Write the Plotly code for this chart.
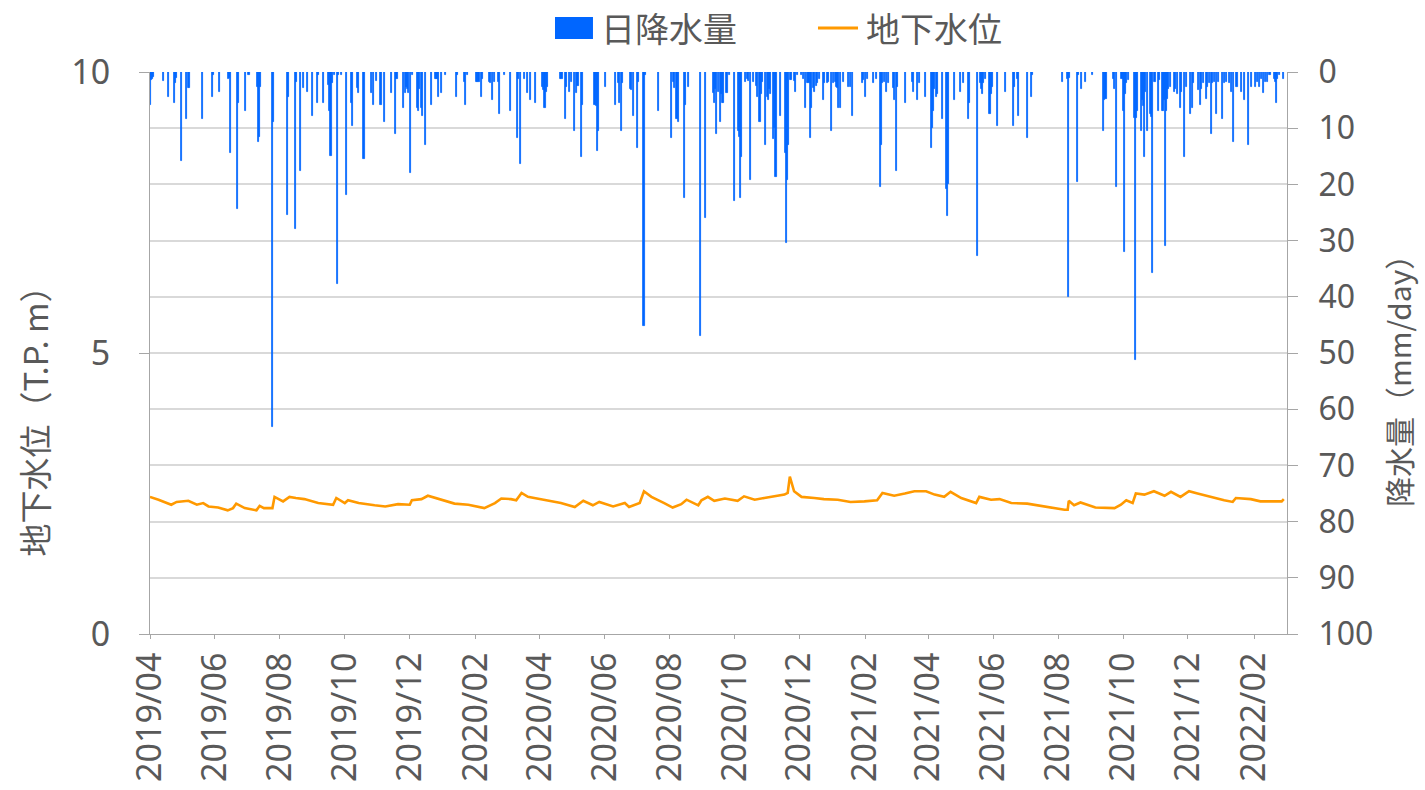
import plotly.graph_objects as go

# Daily precipitation (mm/day); days not listed had no rain
rain_dates = [
    "2019-04-01", "2019-04-02", "2019-04-03", "2019-04-04", "2019-04-14", "2019-04-18", "2019-04-24", "2019-04-25",
    "2019-04-26", "2019-05-01", "2019-05-05", "2019-05-07", "2019-05-08", "2019-05-20", "2019-05-30", "2019-05-31",
    "2019-06-05", "2019-06-14", "2019-06-15", "2019-06-16", "2019-06-22", "2019-06-23", "2019-06-30", "2019-07-03",
    "2019-07-11", "2019-07-12", "2019-07-13", "2019-07-14", "2019-07-25", "2019-07-26", "2019-08-08", "2019-08-09",
    "2019-08-16", "2019-08-17", "2019-08-20", "2019-08-23", "2019-08-27", "2019-09-01", "2019-09-05", "2019-09-06",
    "2019-09-11", "2019-09-16", "2019-09-17", "2019-09-18", "2019-09-19", "2019-09-21", "2019-09-24", "2019-09-25",
    "2019-09-28", "2019-10-03", "2019-10-07", "2019-10-08", "2019-10-13", "2019-10-14", "2019-10-19", "2019-10-26",
    "2019-10-28", "2019-10-31", "2019-11-04", "2019-11-07", "2019-11-14", "2019-11-18", "2019-11-19", "2019-11-25",
    "2019-11-27", "2019-11-28", "2019-11-29", "2019-11-30", "2019-12-02", "2019-12-04", "2019-12-08", "2019-12-09",
    "2019-12-10", "2019-12-12", "2019-12-13", "2019-12-16", "2019-12-21", "2019-12-25", "2019-12-26", "2019-12-27",
    "2019-12-28", "2019-12-31",
    "2020-01-04", "2020-01-14", "2020-01-15", "2020-01-21", "2020-01-22", "2020-01-24", "2020-02-02", "2020-02-03",
    "2020-02-04", "2020-02-06", "2020-02-07", "2020-02-14", "2020-02-15", "2020-02-17", "2020-02-19", "2020-02-22",
    "2020-02-23", "2020-02-28", "2020-03-05", "2020-03-11", "2020-03-12", "2020-03-14", "2020-03-18", "2020-03-21",
    "2020-03-23", "2020-03-28", "2020-04-04", "2020-04-05", "2020-04-06", "2020-04-07", "2020-04-08", "2020-04-21",
    "2020-04-22", "2020-04-25", "2020-04-26", "2020-04-29", "2020-05-01", "2020-05-04", "2020-05-06", "2020-05-07",
    "2020-05-10", "2020-05-11", "2020-05-23", "2020-05-24", "2020-05-25", "2020-05-26", "2020-06-02", "2020-06-11",
    "2020-06-14", "2020-06-15", "2020-06-17", "2020-06-18", "2020-06-25", "2020-06-26", "2020-06-28", "2020-07-02",
    "2020-07-03", "2020-07-08", "2020-07-09", "2020-07-22", "2020-08-03", "2020-08-05", "2020-08-06", "2020-08-08",
    "2020-08-09", "2020-08-15", "2020-08-16", "2020-08-19", "2020-08-30", "2020-09-04", "2020-09-11", "2020-09-12",
    "2020-09-13", "2020-09-14", "2020-09-16", "2020-09-18", "2020-09-19", "2020-09-20", "2020-09-21", "2020-09-24",
    "2020-09-26", "2020-10-01", "2020-10-05", "2020-10-06", "2020-10-07", "2020-10-08", "2020-10-11", "2020-10-13",
    "2020-10-14", "2020-10-16", "2020-10-19", "2020-10-22", "2020-10-23", "2020-10-25", "2020-10-26", "2020-10-27",
    "2020-10-30", "2020-11-01", "2020-11-02", "2020-11-03", "2020-11-04", "2020-11-07", "2020-11-08", "2020-11-09",
    "2020-11-13", "2020-11-18", "2020-11-19", "2020-11-20", "2020-11-21", "2020-11-23", "2020-11-24", "2020-11-26",
    "2020-11-27", "2020-11-29", "2020-12-03", "2020-12-05", "2020-12-07", "2020-12-09", "2020-12-10", "2020-12-11",
    "2020-12-12", "2020-12-14", "2020-12-15", "2020-12-17", "2020-12-18", "2020-12-20", "2020-12-24", "2020-12-25",
    "2020-12-27", "2020-12-28", "2020-12-31",
    "2021-01-02", "2021-01-04", "2021-01-05", "2021-01-06", "2021-01-07", "2021-01-09", "2021-01-11", "2021-01-16",
    "2021-01-18", "2021-01-20", "2021-01-29", "2021-01-30", "2021-02-01", "2021-02-03", "2021-02-09", "2021-02-11",
    "2021-02-15", "2021-02-16", "2021-02-17", "2021-02-19", "2021-02-21", "2021-02-23", "2021-02-27", "2021-02-28",
    "2021-03-02", "2021-03-03", "2021-03-11", "2021-03-17", "2021-03-18", "2021-03-22", "2021-03-24", "2021-03-29",
    "2021-04-04", "2021-04-05", "2021-04-06", "2021-04-07", "2021-04-09", "2021-04-10", "2021-04-14", "2021-04-18",
    "2021-04-19", "2021-04-20", "2021-04-26", "2021-05-01", "2021-05-04", "2021-05-09", "2021-05-10", "2021-05-17",
    "2021-05-20", "2021-05-21", "2021-05-22", "2021-05-23", "2021-05-25", "2021-05-29", "2021-05-30", "2021-05-31",
    "2021-06-05", "2021-06-13", "2021-06-20", "2021-06-21", "2021-06-24", "2021-06-25", "2021-07-03", "2021-07-07",
    "2021-07-08", "2021-08-05", "2021-08-10", "2021-08-11", "2021-08-12", "2021-08-19", "2021-08-20", "2021-08-23",
    "2021-08-27", "2021-09-02", "2021-09-13", "2021-09-14", "2021-09-15", "2021-09-22", "2021-09-23", "2021-09-25",
    "2021-09-30", "2021-10-01", "2021-10-02", "2021-10-03", "2021-10-04", "2021-10-06", "2021-10-12", "2021-10-13",
    "2021-10-14", "2021-10-15", "2021-10-18", "2021-10-19", "2021-10-20", "2021-10-21", "2021-10-22", "2021-10-24",
    "2021-10-27", "2021-10-28", "2021-10-29", "2021-10-31", "2021-11-03", "2021-11-04", "2021-11-07", "2021-11-08",
    "2021-11-09", "2021-11-10", "2021-11-11", "2021-11-12", "2021-11-13", "2021-11-15", "2021-11-18", "2021-11-19",
    "2021-11-21", "2021-11-24", "2021-11-25", "2021-11-28", "2021-11-30", "2021-12-03", "2021-12-05", "2021-12-06",
    "2021-12-11", "2021-12-13", "2021-12-14", "2021-12-16", "2021-12-18", "2021-12-19", "2021-12-21", "2021-12-23",
    "2021-12-24", "2021-12-26", "2021-12-28", "2021-12-30",
    "2022-01-02", "2022-01-04", "2022-01-06", "2022-01-09", "2022-01-11", "2022-01-13", "2022-01-16", "2022-01-20",
    "2022-01-23", "2022-01-27", "2022-01-30", "2022-02-02", "2022-02-04", "2022-02-06", "2022-02-08", "2022-02-10",
    "2022-02-12", "2022-02-14", "2022-02-16", "2022-02-20", "2022-02-21", "2022-02-22", "2022-02-23", "2022-02-25",
    "2022-03-01",
]
rain_mm = [
    5.9, 1.4, 1.2, 0.8, 1.6, 4.5, 5.6, 2.0,
    1.0, 15.8, 8.3, 2.9, 2.9, 8.3, 4.5, 0.6,
    3.6, 1.2, 1.0, 14.4, 24.3, 5.6, 6.9, 0.6,
    2.6, 12.4, 11.5, 2.6, 63.2, 8.9, 25.5, 4.5,
    27.9, 1.7, 17.7, 2.9, 3.6, 7.8, 5.6, 0.6,
    5.6, 2.3, 6.9, 15.0, 2.0, 0.6, 37.7, 0.6,
    0.6, 21.8, 5.6, 9.6, 2.9, 3.8, 15.5, 3.8,
    5.9, 1.6, 5.9, 8.9, 3.8, 11.1, 1.2, 6.4,
    3.8, 2.6, 3.0, 3.8, 17.9, 0.6, 6.4, 7.0,
    3.0, 6.4, 7.8, 13.0, 5.9, 1.2, 1.2, 1.2,
    4.4, 3.8,
    0.6, 4.5, 0.6, 1.7, 5.9, 0.6, 1.7, 1.7,
    1.7, 4.5, 1.2, 1.7, 2.0, 5.0, 1.7, 1.7,
    7.5, 0.6, 6.9, 11.8, 1.2, 16.4, 1.2, 3.8,
    5.0, 5.6, 2.6, 3.2, 6.4, 3.5, 2.6, 1.2,
    1.2, 8.3, 2.6, 3.6, 1.7, 10.5, 3.8, 2.5,
    15.1, 5.9, 5.9, 6.0, 14.0, 10.5, 2.6, 5.9,
    2.0, 5.6, 10.5, 2.0, 3.0, 3.2, 7.8, 13.6,
    1.7, 45.2, 0.6, 6.9, 11.8, 1.7, 2.9, 8.3,
    8.9, 22.4, 5.9, 2.6, 47.0, 25.9, 3.8, 5.6,
    3.0, 11.1, 3.5, 8.9, 4.0, 5.6, 5.6, 3.8,
    0.6, 23.0, 10.5, 11.5, 22.4, 15.1, 1.7, 1.2,
    1.6, 19.2, 1.7, 2.5, 4.4, 8.9, 4.0, 1.7,
    13.0, 4.5, 5.0, 3.0, 4.0, 12.0, 10.0, 18.6,
    7.8, 14.4, 30.4, 19.2, 13.0, 1.4, 1.4, 1.6,
    3.6, 0.6, 0.6, 1.2, 6.4, 2.0, 2.0, 11.8,
    6.4, 2.9, 3.5, 2.5, 2.0, 1.2, 5.0, 2.0,
    2.0, 1.7, 10.5,
    2.0, 1.7, 2.6, 2.9, 6.4, 6.4, 1.7, 2.6,
    2.6, 7.8, 2.0, 1.5, 4.4, 1.2, 2.0, 1.2,
    20.4, 13.0, 2.0, 1.7, 3.5, 2.0, 2.9, 5.0,
    17.7, 2.6, 5.6, 1.7, 3.6, 5.0, 1.9, 4.5,
    13.6, 10.0, 7.0, 3.0, 4.5, 4.0, 8.3, 20.9,
    25.6, 20.0, 5.0, 3.6, 1.9, 8.3, 5.6, 32.7,
    1.9, 3.0, 4.0, 1.9, 1.3, 7.5, 4.0, 2.6,
    9.6, 3.6, 9.6, 2.6, 1.2, 7.8, 11.8, 4.5,
    0.6, 1.7, 1.2, 40.0, 1.0, 19.6, 0.6, 3.0,
    1.7, 0.6, 10.5, 5.0, 4.8, 1.2, 3.0, 20.5,
    1.2, 7.0, 32.0, 4.0, 2.0, 1.5, 8.2, 51.2,
    8.2, 7.0, 10.5, 5.0, 6.0, 15.1, 3.5, 10.5,
    7.5, 8.0, 35.8, 1.7, 6.9, 1.5, 7.0, 7.0,
    5.0, 31.0, 7.0, 4.8, 3.0, 2.6, 3.5, 3.0,
    4.0, 6.4, 3.5, 15.1, 2.6, 7.5, 6.4, 2.0,
    3.2, 5.9, 3.0, 2.0, 4.8, 2.6, 2.0, 11.1,
    2.0, 1.7, 7.5, 1.7,
    8.3, 2.0, 1.7, 2.0, 3.5, 12.4, 2.6, 3.5,
    5.0, 13.0, 2.6, 2.6, 1.7, 2.6, 1.2, 3.8,
    1.7, 1.7, 0.6, 1.2, 1.7, 5.6, 1.2, 0.6,
    1.2,
]

# Groundwater level (T.P. m)
gw_dates = [
    "2019-04-01", "2019-04-09", "2019-04-21", "2019-04-26", "2019-05-07", "2019-05-15", "2019-05-21", "2019-05-26",
    "2019-06-04", "2019-06-13", "2019-06-18", "2019-06-21", "2019-06-29", "2019-07-10", "2019-07-13", "2019-07-17",
    "2019-07-25", "2019-07-27", "2019-08-04", "2019-08-10", "2019-08-16", "2019-08-24", "2019-09-06", "2019-09-20",
    "2019-09-23", "2019-10-01", "2019-10-04", "2019-10-14", "2019-10-29", "2019-11-08", "2019-11-20", "2019-12-01",
    "2019-12-03", "2019-12-12", "2019-12-18", "2019-12-28", "2020-01-12", "2020-01-25", "2020-02-03", "2020-02-09",
    "2020-02-19", "2020-02-25", "2020-03-05", "2020-03-10", "2020-03-15", "2020-03-21", "2020-03-27", "2020-04-09",
    "2020-04-21", "2020-05-04", "2020-05-12", "2020-05-21", "2020-05-27", "2020-06-09", "2020-06-20", "2020-06-24",
    "2020-07-04", "2020-07-08", "2020-07-15", "2020-07-27", "2020-08-04", "2020-08-12", "2020-08-17", "2020-08-28",
    "2020-08-31", "2020-09-06", "2020-09-12", "2020-09-22", "2020-10-04", "2020-10-10", "2020-10-20", "2020-10-29",
    "2020-11-08", "2020-11-17", "2020-11-20", "2020-11-22", "2020-11-26", "2020-12-03", "2020-12-15", "2020-12-24",
    "2021-01-06", "2021-01-18", "2021-01-31", "2021-02-12", "2021-02-17", "2021-02-28", "2021-03-10", "2021-03-19",
    "2021-03-30", "2021-04-07", "2021-04-16", "2021-04-22", "2021-05-02", "2021-05-16", "2021-05-19", "2021-05-30",
    "2021-06-07", "2021-06-18", "2021-07-03", "2021-07-16", "2021-07-25", "2021-08-07", "2021-08-10", "2021-08-11",
    "2021-08-16", "2021-08-22", "2021-09-05", "2021-09-23", "2021-09-29", "2021-10-04", "2021-10-10", "2021-10-13",
    "2021-10-21", "2021-10-30", "2021-11-09", "2021-11-15", "2021-11-24", "2021-12-02", "2021-12-10", "2021-12-22",
    "2022-01-04", "2022-01-12", "2022-01-15", "2022-01-29", "2022-02-07", "2022-02-20", "2022-02-27", "2022-03-01",
]
gw_level = [
    2.44, 2.39, 2.30, 2.35, 2.37, 2.30, 2.33, 2.27,
    2.25, 2.20, 2.24, 2.32, 2.24, 2.20, 2.28, 2.24,
    2.24, 2.44, 2.36, 2.44, 2.42, 2.40, 2.33, 2.30,
    2.42, 2.33, 2.38, 2.33, 2.29, 2.27, 2.31, 2.30,
    2.38, 2.40, 2.46, 2.40, 2.32, 2.30, 2.27, 2.24,
    2.33, 2.41, 2.40, 2.38, 2.51, 2.44, 2.42, 2.37,
    2.33, 2.26, 2.37, 2.29, 2.35, 2.27, 2.33, 2.26,
    2.33, 2.54, 2.44, 2.33, 2.25, 2.31, 2.39, 2.29,
    2.38, 2.44, 2.37, 2.41, 2.37, 2.45, 2.39, 2.42,
    2.45, 2.48, 2.51, 2.80, 2.54, 2.44, 2.42, 2.40,
    2.39, 2.35, 2.36, 2.38, 2.51, 2.46, 2.50, 2.54,
    2.54, 2.48, 2.44, 2.53, 2.42, 2.33, 2.44, 2.39,
    2.40, 2.33, 2.32, 2.28, 2.24, 2.21, 2.21, 2.37,
    2.29, 2.34, 2.25, 2.24, 2.30, 2.38, 2.33, 2.50,
    2.48, 2.54, 2.46, 2.53, 2.44, 2.54, 2.50, 2.44,
    2.38, 2.35, 2.42, 2.40, 2.36, 2.36, 2.36, 2.40,
]

level_ticks = [0, 5, 10]
rain_ticks = list(range(0, 101, 10))

JP = "Noto Sans CJK JP, sans-serif"
NUM = "Noto Sans, sans-serif"
TEXT = "#595959"
GRID = "#d9d9d9"
AXIS = "#a6a6a6"
BLUE = "#0066ff"
ORANGE = "#ff9900"

fig = go.Figure()

fig.add_trace(go.Bar(
    x=rain_dates, y=rain_mm, name="日降水量", yaxis="y2",
    marker=dict(color=BLUE, line=dict(color=BLUE, width=0.8)),
    width=86400000,
))

fig.add_trace(go.Scatter(
    x=gw_dates, y=gw_level, name="地下水位", mode="lines",
    line=dict(color=ORANGE, width=2.6),
))

# Legend drawn as keys + labels above the plot
legend_shapes = [
    dict(type="rect", xref="paper", yref="paper", x0=0.3562, x1=0.3896, y0=1.0587, y1=1.0979,
         fillcolor=BLUE, line=dict(width=0)),
    dict(type="line", xref="paper", yref="paper", x0=0.5875, x1=0.6227, y0=1.0783, y1=1.0783,
         line=dict(color=ORANGE, width=3)),
]
legend_labels = [
    dict(text="日降水量", xref="paper", yref="paper", x=0.3945, y=1.0783,
         xanchor="left", yanchor="middle", showarrow=False, font=dict(family=JP, size=34, color=TEXT)),
    dict(text="地下水位", xref="paper", yref="paper", x=0.6280, y=1.0783,
         xanchor="left", yanchor="middle", showarrow=False, font=dict(family=JP, size=34, color=TEXT)),
]
axis_titles = [
    dict(text="地下水位（T.P. m）", xref="paper", yref="paper", x=-0.1020, y=0.3926,
         xanchor="center", yanchor="middle", textangle=-90, showarrow=False,
         font=dict(family=JP, size=33, color=TEXT)),
    dict(text="降水量（mm/day）", xref="paper", yref="paper", x=1.0977, y=0.4626,
         xanchor="center", yanchor="middle", textangle=-90, showarrow=False,
         font=dict(family=JP, size=30, color=TEXT)),
]

fig.update_layout(
    width=1425, height=790,
    margin=dict(l=150, r=138, t=72, b=156, autoexpand=False),
    paper_bgcolor="white", plot_bgcolor="white",
    font=dict(family=NUM, color=TEXT, size=24),
    bargap=0,
    showlegend=False,
    shapes=legend_shapes,
    annotations=legend_labels + axis_titles,
    xaxis=dict(
        type="date",
        range=["2019-04-01", "2022-03-04"],
        tick0="2019-04-01", dtick="M2", tickformat="%Y/%m",
        tickangle=-90, tickfont=dict(family=NUM, size=34, color=TEXT),
        showgrid=False, showline=True, linecolor=AXIS, linewidth=1,
        ticks="outside", ticklen=4, tickcolor=AXIS,
    ),
    yaxis=dict(
        range=[0, 10], tickvals=level_ticks,
        showgrid=False, zeroline=False,
        showline=True, linecolor=AXIS, linewidth=1,
        ticks="outside", ticklen=10, tickcolor=AXIS,
        ticklabelstandoff=22,
        tickfont=dict(family=NUM, size=34, color=TEXT),
    ),
    yaxis2=dict(
        overlaying="y", side="right",
        range=[100, 0], tickvals=rain_ticks,
        showgrid=True, gridcolor=GRID, gridwidth=1.5, zeroline=False,
        showline=True, linecolor=AXIS, linewidth=1,
        ticks="outside", ticklen=10, tickcolor=AXIS,
        ticklabelstandoff=14,
        tickfont=dict(family=NUM, size=32, color=TEXT),
    ),
)

fig.write_html("out.html")
